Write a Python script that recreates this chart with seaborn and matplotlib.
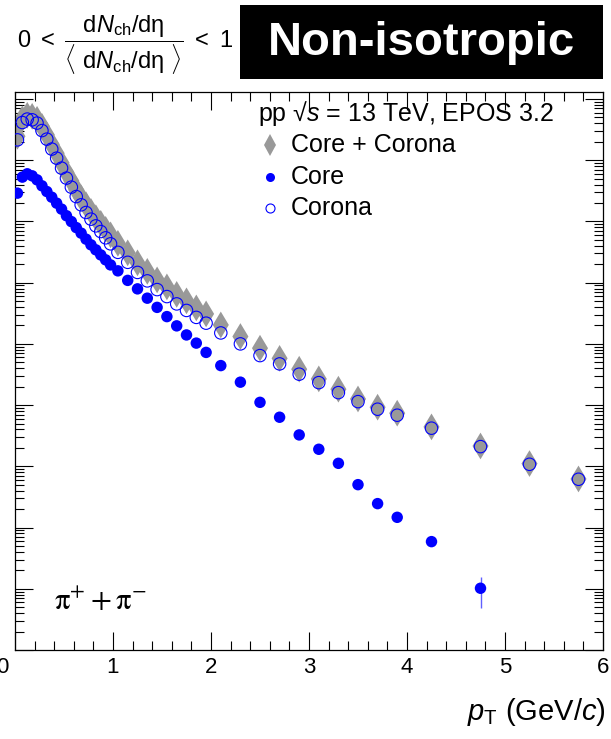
import numpy as np
import pandas as pd
import matplotlib
matplotlib.use("Agg")
import matplotlib.pyplot as plt
import seaborn as sns
from matplotlib.lines import Line2D
from matplotlib.patches import Rectangle
from matplotlib.transforms import ScaledTranslation
from matplotlib.ticker import LogLocator, MultipleLocator, NullFormatter

# ---------------- data ----------------
pt = [0.025, 0.075, 0.125, 0.175, 0.225, 0.275, 0.325, 0.375, 0.425, 0.475,
      0.525, 0.575, 0.625, 0.675, 0.725, 0.775, 0.825, 0.875, 0.925, 0.975,
      1.05, 1.15, 1.25, 1.35, 1.45, 1.55, 1.65, 1.75, 1.85, 1.95,
      2.1, 2.3, 2.5, 2.7, 2.9, 3.1, 3.3, 3.5, 3.7, 3.9,
      4.25, 4.75, 5.25, 5.75]

core_corona = [2.46, 4.75, 5.42, 5.21, 4.66, 3.58, 2.60, 1.82, 1.30, 0.908,
               0.634, 0.460, 0.328, 0.243, 0.187, 0.146, 0.115, 0.0931, 0.0743, 0.0604,
               0.0439, 0.0307, 0.0211, 0.0153, 0.0111, 0.00853, 0.00644, 0.00505, 0.00387, 0.00309,
               2.04e-3, 1.32e-3, 8.51e-4, 5.80e-4, 3.86e-4, 2.68e-4, 1.82e-4, 1.26e-4, 9.25e-5, 7.38e-5,
               4.41e-5, 2.15e-5, 1.11e-5, 6.22e-6]

corona = [2.15, 4.13, 4.70, 4.57, 4.04, 3.05, 2.21, 1.52, 1.08, 0.743,
          0.510, 0.363, 0.255, 0.187, 0.140, 0.109, 0.0847, 0.0684, 0.0540, 0.0431,
          0.0313, 0.0215, 0.0147, 0.0107, 0.00771, 0.00593, 0.00450, 0.00352, 0.00271, 0.00218,
          1.51e-3, 1.00e-3, 6.44e-4, 4.71e-4, 3.20e-4, 2.33e-4, 1.60e-4, 1.14e-4, 8.57e-5, 6.84e-5,
          4.20e-5, 2.10e-5, 1.08e-5, 6.15e-6]

pt_core = pt[:42]
core = [0.290, 0.530, 0.600, 0.556, 0.478, 0.382, 0.308, 0.249, 0.199, 0.159,
        0.124, 0.0995, 0.0794, 0.0644, 0.0514, 0.0415, 0.0344, 0.0284, 0.0236, 0.0195,
        0.0156, 0.0109, 0.00792, 0.00558, 0.00395, 0.00279, 0.00197, 0.00140, 0.00103, 7.26e-4,
        4.42e-4, 2.37e-4, 1.11e-4, 6.34e-5, 3.26e-5, 1.90e-5, 1.12e-5, 5.02e-6, 2.46e-6, 1.47e-6,
        5.89e-7, 1.02e-7]
core_err = [0] * 38 + [0.15e-6, 0.12e-6, 0.6e-7, 0.53e-7]

series_labels = ["Core + Corona", "Core", "Corona"]
header = "pp \u221a$s$ = 13 TeV, EPOS 3.2"

# ---------------- style ----------------
sns.set_theme(style="ticks")
plt.rcParams["font.family"] = ["Liberation Sans", "DejaVu Sans"]
plt.rcParams["mathtext.fontset"] = "custom"
plt.rcParams["mathtext.rm"] = "Liberation Sans"
plt.rcParams["mathtext.it"] = "Liberation Sans:italic"
plt.rcParams["mathtext.bf"] = "Liberation Sans:bold"

GREY = "#999999"
BLUE = "#0000ff"

W, H = 611, 739
fig = plt.figure(figsize=(W / 100, H / 100), dpi=100)
fig.patch.set_facecolor("white")


def fx(px):
    return px / W


def fy(py):
    return 1 - py / H


ax = fig.add_axes([fx(15), fy(650), (603 - 15) / W, (650 - 92) / H])
ax.set_facecolor("white")

df_cc = pd.DataFrame({"pT": pt, "val": core_corona})
df_core = pd.DataFrame({"pT": pt_core, "val": core, "err": core_err})
df_cor = pd.DataFrame({"pT": pt, "val": corona})

sns.scatterplot(data=df_cc, x="pT", y="val", marker="d", s=185, color=GREY,
                edgecolor="none", linewidth=0, ax=ax, zorder=2, legend=False)
ax.errorbar(df_core["pT"], df_core["val"], yerr=df_core["err"], fmt="none",
            ecolor="#6060ff", elinewidth=1.0, zorder=2.5)
sns.scatterplot(data=df_core, x="pT", y="val", marker="o", s=68, color=BLUE,
                edgecolor="none", linewidth=0, ax=ax, zorder=3, legend=False)
sns.scatterplot(data=df_cor, x="pT", y="val", marker="o", s=80, facecolors="none",
                edgecolor=BLUE, linewidth=0.8, ax=ax, zorder=4, legend=False)

ax.set_yscale("log")
ax.set_xlim(0, 6)
ax.set_ylim(1e-8, 10 ** (1 + 7 / 61.2))
ax.set_xlabel("")
ax.set_ylabel("")

ax.xaxis.set_major_locator(MultipleLocator(1))
ax.xaxis.set_minor_locator(MultipleLocator(0.2))
ax.yaxis.set_major_locator(LogLocator(base=10, numticks=30))
ax.yaxis.set_minor_locator(LogLocator(base=10, subs=np.arange(2, 10), numticks=30))
ax.yaxis.set_minor_formatter(NullFormatter())
ax.tick_params(which="both", direction="in", top=True, right=True, colors="black",
               width=0.8, labelleft=False, labelsize=16, pad=5)
ax.tick_params(which="major", length=13)
ax.tick_params(which="minor", length=6.5)
for sp in ax.spines.values():
    sp.set_color("black")
    sp.set_linewidth(0.9)

# x tick labels: the "0" sits partly cut at the left edge in the reference
fig.canvas.draw()
for lab in ax.get_xticklabels():
    lab.set_fontsize(16)
    if lab.get_text() in ("0", "\u22120"):
        lab.set_transform(lab.get_transform() + ScaledTranslation(-0.13, 0, fig.dpi_scale_trans))

# x title
fig.text(fx(606), fy(712), r"$p_{\mathrm{T}}$ (GeV/$c$)", ha="right", va="center",
         fontsize=21, color="black")

# header fraction
fig.text(fx(125), fy(45),
         r"$0\ <\ \dfrac{\mathrm{d}N_{\mathrm{ch}}/\mathrm{d\eta}}{\langle\ \mathrm{d}N_{\mathrm{ch}}/\mathrm{d\eta}\ \rangle}\ <\ 1$",
         ha="center", va="center", fontsize=17, color="black")

# Non-isotropic box
fig.add_artist(Rectangle((fx(240), fy(79)), (603 - 240) / W, (79 - 5) / H,
                         transform=fig.transFigure, facecolor="black", edgecolor="none"))
fig.text(fx(421), fy(43), "Non-isotropic", ha="center", va="center",
         fontsize=34, fontweight="bold", color="white")

# legend (manual)
fig.text(fx(258), fy(113), header, ha="left", va="center", fontsize=18, color="black")
leg_y = [145, 177, 208]
fig.add_artist(Line2D([fx(270)], [fy(leg_y[0])], marker="d", markersize=11, color=GREY,
                      markeredgewidth=0, transform=fig.transFigure))
fig.add_artist(Line2D([fx(270)], [fy(leg_y[1])], marker="o", markersize=6.5, color=BLUE,
                      markeredgewidth=0, transform=fig.transFigure))
fig.add_artist(Line2D([fx(270)], [fy(leg_y[2])], marker="o", markersize=6.5,
                      markerfacecolor="none", markeredgecolor=BLUE, markeredgewidth=0.8,
                      transform=fig.transFigure))
for lab, yy in zip(series_labels, leg_y):
    fig.text(fx(291), fy(yy), lab, ha="left", va="center", fontsize=18, color="black")

# particle label
fig.text(fx(54), fy(602), r"$\mathrm{\pi}^{+} + \mathrm{\pi}^{-}$", ha="left", va="center",
         fontsize=22, color="black", math_fontfamily="stix")

fig.savefig("out.png", dpi=100, facecolor="white")
